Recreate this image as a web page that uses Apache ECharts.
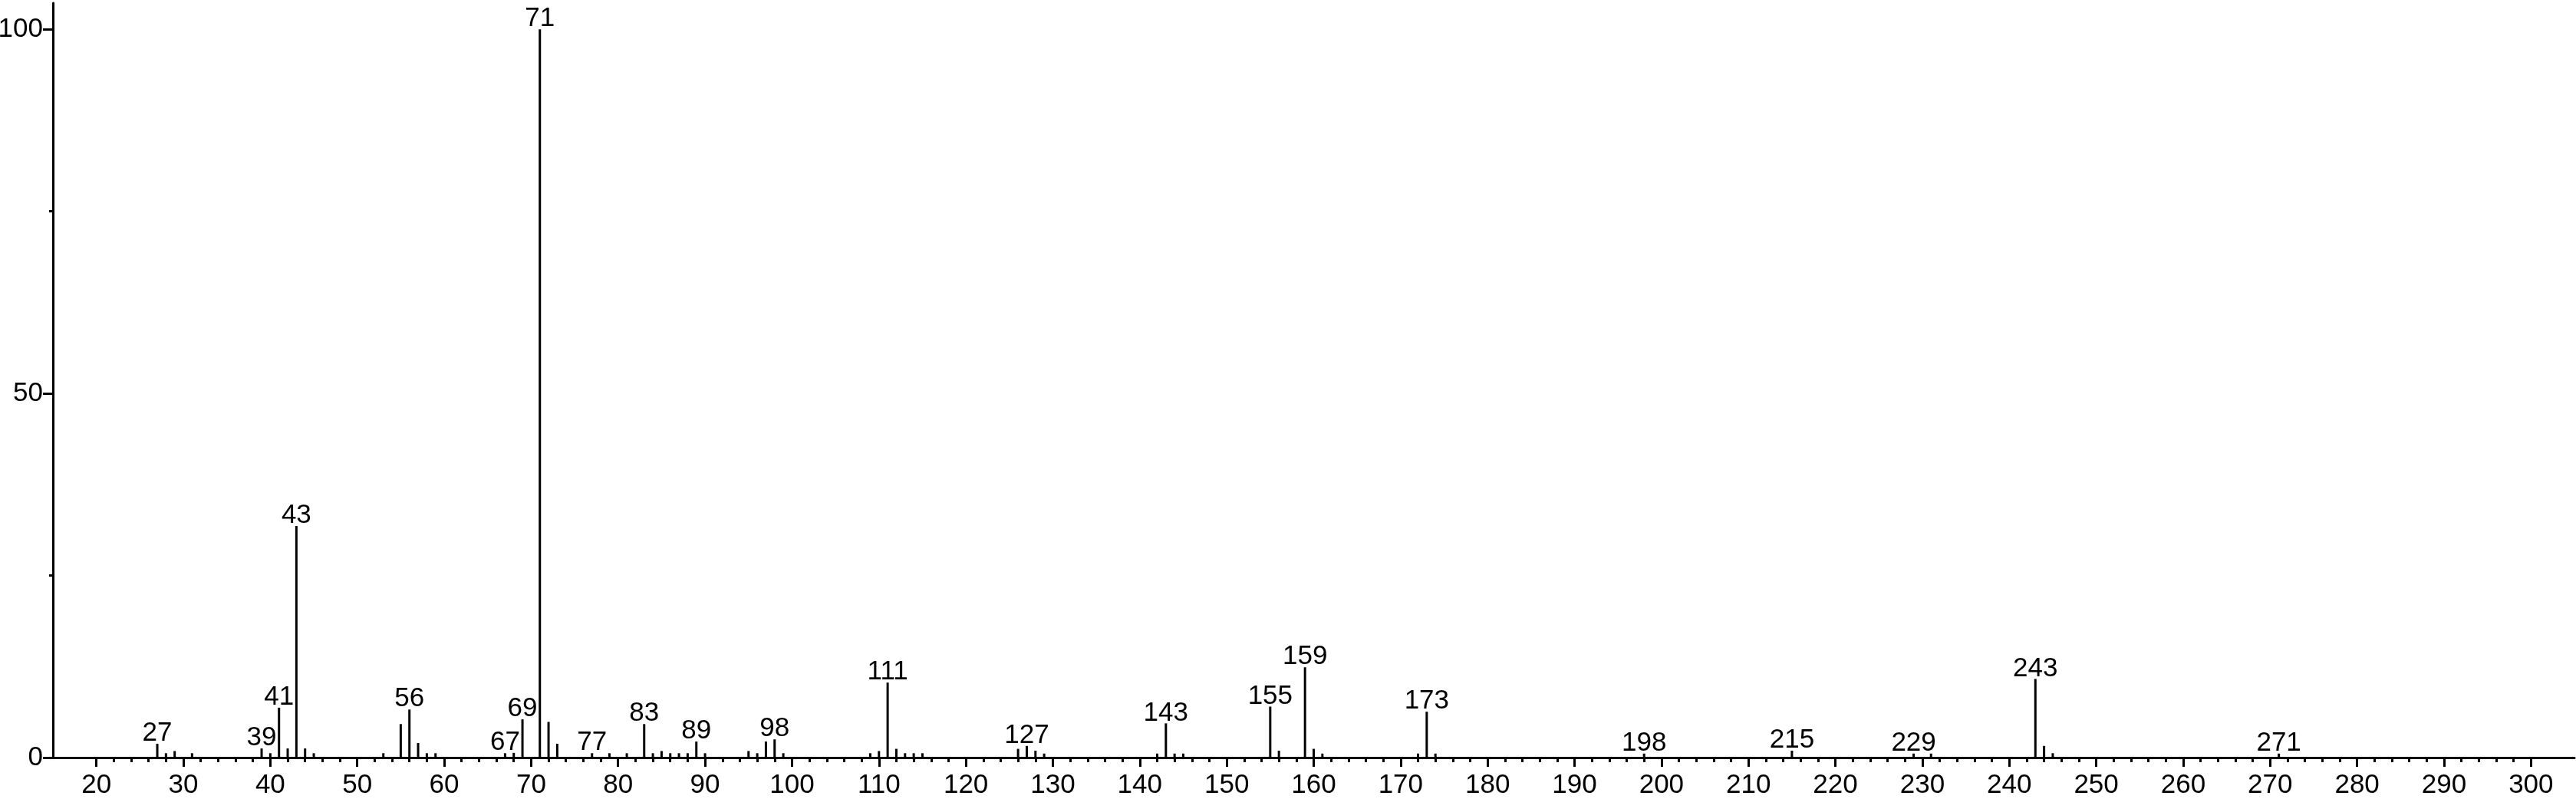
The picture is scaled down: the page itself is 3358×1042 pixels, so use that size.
<!DOCTYPE html>
<html>
<head>
<meta charset="utf-8">
<script src="https://cdn.jsdelivr.net/npm/echarts@6/dist/echarts.min.js"></script>
<style>
html,body{margin:0;padding:0;background:#fff;}
#chart{width:3358px;height:1042px;}
</style>
</head>
<body>
<div id="chart"></div>
<script>
// m/z values and relative intensities
var masses = [27,28,29,31,39,40,41,42,43,44,45,53,55,56,57,58,59,67,68,69,71,72,73,77,79,81,83,84,85,86,87,88,89,90,95,96,97,98,99,109,110,111,112,113,114,115,126,127,128,129,142,143,144,145,155,156,159,160,161,172,173,174,198,215,229,231,243,244,245,271];
var intensities = [1.9,0.6,0.9,0.6,1.25,0.6,6.85,1.25,31.8,1.25,0.6,0.6,4.6,6.6,2.0,0.6,0.6,0.6,0.65,5.25,100,4.9,1.9,0.6,0.6,0.6,4.6,0.6,0.9,0.6,0.6,0.6,2.2,0.6,0.9,0.6,2.2,2.5,0.6,0.6,0.9,10.3,1.2,0.6,0.6,0.6,1.2,1.6,0.95,0.55,0.55,4.7,0.55,0.55,7.0,0.95,12.4,1.2,0.55,0.55,6.3,0.55,0.55,0.95,0.55,0.55,10.8,1.6,0.6,0.55];
var labeledMasses = [27,39,41,43,56,67,69,71,77,83,89,98,111,127,143,155,159,173,198,215,229,243,271];
var xMajorTicks = [20,30,40,50,60,70,80,90,100,110,120,130,140,150,160,170,180,190,200,210,220,230,240,250,260,270,280,290,300];
var yMajorTicks = [0,50,100];
var yMinorTicks = [25,75];

var xMinorTicks = [];
for (var t = 22; t < 300; t += 2) { if (t % 10 !== 0) xMinorTicks.push(t); }

var FONT = "'Liberation Sans',Arial,sans-serif";
var FS = 35;
var data = masses.map(function (m, i) { return [m, intensities[i]]; });

var chart = echarts.init(document.getElementById('chart'), null, {renderer: 'canvas'});
var lineStyle = {color: '#000', width: 3};
chart.setOption({
  animation: false,
  backgroundColor: '#fff',
  grid: {left: 69, right: 2, top: 4, bottom: 54, containLabel: false, outerBoundsMode: 'none'},
  xAxis: [{
    type: 'value', min: 15, max: 305, position: 'bottom',
    axisLine: {show: true, onZero: false, lineStyle: lineStyle},
    axisTick: {show: true, customValues: xMajorTicks, length: 12, lineStyle: lineStyle},
    axisLabel: {show: true, customValues: xMajorTicks, margin: 19, color: '#000', fontSize: FS, fontFamily: FONT},
    splitLine: {show: false}
  }, {
    type: 'value', min: 15, max: 305, position: 'bottom',
    axisLine: {show: false},
    axisTick: {show: true, customValues: xMinorTicks, length: 6, lineStyle: lineStyle},
    axisLabel: {show: false},
    splitLine: {show: false}
  }],
  yAxis: [{
    type: 'value', min: 0, max: 103.6, position: 'left',
    axisLine: {show: true, lineStyle: lineStyle},
    axisTick: {show: true, customValues: yMajorTicks, length: 13, lineStyle: lineStyle},
    axisLabel: {show: true, customValues: yMajorTicks, margin: 13, color: '#000', fontSize: FS, fontFamily: FONT},
    splitLine: {show: false}
  }, {
    type: 'value', min: 0, max: 103.6, position: 'left',
    axisLine: {show: false},
    axisTick: {show: true, customValues: yMinorTicks, length: 5, lineStyle: lineStyle},
    axisLabel: {show: false},
    splitLine: {show: false}
  }],
  series: [{
    type: 'bar',
    xAxisIndex: 0, yAxisIndex: 0,
    data: data,
    barWidth: 3,
    itemStyle: {color: '#000'},
    label: {
      show: true, position: 'top', distance: -4,
      color: '#000', fontSize: FS, fontFamily: FONT,
      formatter: function (p) {
        return labeledMasses.indexOf(p.value[0]) >= 0 ? String(p.value[0]) : '';
      }
    }
  }]
});
</script>
</body>
</html>
